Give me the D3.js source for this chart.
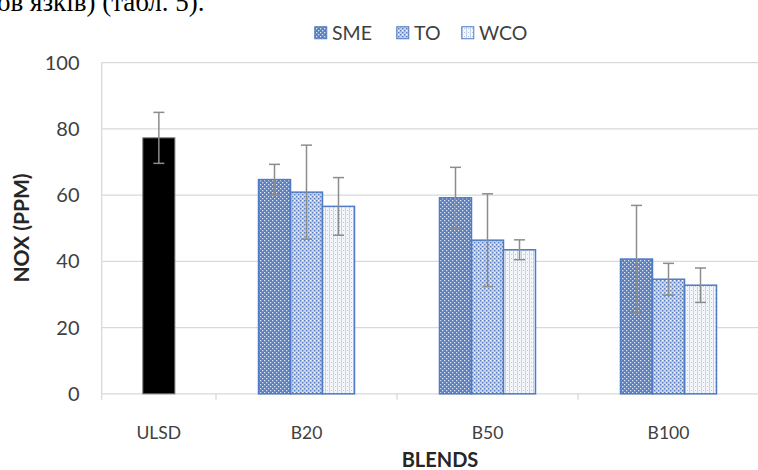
<!DOCTYPE html>
<html>
<head>
<meta charset="utf-8">
<script src="https://cdn.jsdelivr.net/npm/d3@7"></script>
<style>
  html, body { margin: 0; padding: 0; background: #fff; }
  svg { display: block; }
</style>
</head>
<body>
<script>
// NOx emissions by fuel blend, with error bars
const blends = ["B20", "B50", "B100"];
const seriesNames = ["SME", "TO", "WCO"];
const baseFuel = "ULSD";
const baseValue = 77.3;
const baseError = 7.7;
const smeValues = [64.7, 59.2, 40.7];
const smeErrors = [4.6, 9.2, 16.2];
const toValues = [60.9, 46.4, 34.6];
const toErrors = [14.2, 14.0, 4.8];
const wcoValues = [56.6, 43.5, 32.8];
const wcoErrors = [8.7, 3.0, 5.2];
const yTicks = [0, 20, 40, 60, 80, 100];

const W = 758, H = 470;
const plotLeft = 101.7, plotRight = 759, plotTop = 62.7, plotBottom = 393.8;
const baseRight = 216;
const barW = 32;
const font = "Lato, 'Open Sans', sans-serif";

const svg = d3.select("body").append("svg").attr("width", W).attr("height", H);
const defs = svg.append("defs");

// Fill patterns for the three biodiesel series
const pSME = defs.append("pattern").attr("id", "pat-sme").attr("patternUnits", "userSpaceOnUse")
  .attr("width", 4).attr("height", 4);
pSME.append("rect").attr("width", 4).attr("height", 4).attr("fill", "#5a7fc0");
pSME.append("rect").attr("x", 0).attr("y", 0).attr("width", 1.3).attr("height", 1.3).attr("fill", "#dfe7f4");
pSME.append("rect").attr("x", 2).attr("y", 2).attr("width", 1.3).attr("height", 1.3).attr("fill", "#dfe7f4");

const pTO = defs.append("pattern").attr("id", "pat-to").attr("patternUnits", "userSpaceOnUse")
  .attr("width", 4).attr("height", 4);
pTO.append("rect").attr("width", 4).attr("height", 4).attr("fill", "#c3d1ea");
pTO.append("rect").attr("x", 0).attr("y", 0).attr("width", 1.4).attr("height", 1.4).attr("fill", "#5a7fc0");
pTO.append("rect").attr("x", 2).attr("y", 2).attr("width", 1.4).attr("height", 1.4).attr("fill", "#5a7fc0");
pTO.append("rect").attr("x", 2).attr("y", 0).attr("width", 1).attr("height", 1).attr("fill", "#ffffff");

const pWCO = defs.append("pattern").attr("id", "pat-wco").attr("patternUnits", "userSpaceOnUse")
  .attr("width", 4).attr("height", 4);
pWCO.append("rect").attr("width", 4).attr("height", 4).attr("fill", "#f3f6fb");
pWCO.append("rect").attr("x", 1).attr("y", 0).attr("width", 1).attr("height", 4).attr("fill", "#c4d3ec");
pWCO.append("rect").attr("x", 3).attr("y", 2).attr("width", 1).attr("height", 1).attr("fill", "#b3c5e6");

const fills = { SME: "url(#pat-sme)", TO: "url(#pat-to)", WCO: "url(#pat-wco)" };
const barStroke = "#4f7bc4";

// Scales
const y = d3.scaleLinear().domain([0, 100]).range([plotBottom, plotTop]);
const xBase = d3.scaleBand().domain([baseFuel]).range([plotLeft, baseRight]);
const xBlend = d3.scaleBand().domain(blends).range([baseRight, plotRight]);
const bw = xBlend.bandwidth();
const xSeries = d3.scaleBand().domain(seriesNames)
  .range([bw / 2 - 1.5 * barW, bw / 2 + 1.5 * barW]);

// Running text of the page above the figure
svg.append("text").attr("x", -3).attr("y", 11)
  .attr("font-family", "'Liberation Serif', 'DejaVu Serif', serif")
  .attr("font-size", 27).attr("fill", "#000")
  .text("ов язків) (табл. 5).");

// Gridlines
svg.append("g").selectAll("line").data(yTicks.filter(d => d > 0)).join("line")
  .attr("x1", plotLeft).attr("x2", plotRight)
  .attr("y1", d => y(d)).attr("y2", d => y(d))
  .attr("stroke", "#d9d9d9").attr("stroke-width", 1.3);

// Value axis line
svg.append("line").attr("x1", plotLeft).attr("x2", plotLeft)
  .attr("y1", plotTop).attr("y2", plotBottom + 6)
  .attr("stroke", "#d9d9d9").attr("stroke-width", 1.3);

// Category axis line and tick marks at category boundaries
svg.append("line").attr("x1", plotLeft).attr("x2", plotRight)
  .attr("y1", plotBottom).attr("y2", plotBottom)
  .attr("stroke", "#d9d9d9").attr("stroke-width", 1.3);
const boundaries = [xBase.range()[1]].concat(blends.slice(1).map(b => xBlend(b)));
svg.append("g").selectAll("line").data(boundaries).join("line")
  .attr("x1", d => d).attr("x2", d => d)
  .attr("y1", plotBottom).attr("y2", plotBottom + 6)
  .attr("stroke", "#d9d9d9").attr("stroke-width", 1.3);

// Y tick labels
svg.append("g").selectAll("text").data(yTicks).join("text")
  .attr("x", 79.5).attr("y", d => y(d)).attr("dy", "0.35em")
  .attr("text-anchor", "end")
  .attr("font-family", font).attr("font-size", 20)
  .attr("fill", "#404040")
  .text(d => d);

// Category labels
const catLabels = [{ name: baseFuel, x: xBase(baseFuel) + xBase.bandwidth() / 2 }]
  .concat(blends.map(b => ({ name: b, x: xBlend(b) + bw / 2 })));
svg.append("g").selectAll("text").data(catLabels).join("text")
  .attr("x", d => d.x).attr("y", 439)
  .attr("text-anchor", "middle")
  .attr("font-family", font).attr("font-size", 17.5)
  .attr("fill", "#404040")
  .text(d => d.name);

// Axis titles
svg.append("text").attr("x", 440).attr("y", 467)
  .attr("text-anchor", "middle")
  .attr("font-family", font).attr("font-size", 20)
  .attr("font-weight", "bold").attr("fill", "#262626")
  .text("BLENDS");
svg.append("text")
  .attr("transform", "translate(29,228) rotate(-90)")
  .attr("text-anchor", "middle")
  .attr("font-family", font).attr("font-size", 21)
  .attr("font-weight", "bold").attr("fill", "#262626")
  .text("NOX (PPM)");

// Baseline fuel bar
const baseX = xBase(baseFuel) + xBase.bandwidth() / 2;
svg.append("rect")
  .attr("x", baseX - barW / 2).attr("width", barW)
  .attr("y", y(baseValue)).attr("height", y(0) - y(baseValue))
  .attr("fill", "#000").attr("stroke", "#6f6f6f").attr("stroke-width", 1);

// Blend bars
const blendData = [];
const valuesBySeries = { SME: smeValues, TO: toValues, WCO: wcoValues };
const errorsBySeries = { SME: smeErrors, TO: toErrors, WCO: wcoErrors };
blends.forEach((b, i) => {
  seriesNames.forEach(s => {
    blendData.push({ blend: b, series: s, value: valuesBySeries[s][i], err: errorsBySeries[s][i] });
  });
});

svg.append("g").selectAll("rect").data(blendData).join("rect")
  .attr("x", d => xBlend(d.blend) + xSeries(d.series))
  .attr("width", xSeries.bandwidth())
  .attr("y", d => y(d.value))
  .attr("height", d => y(0) - y(d.value))
  .attr("fill", d => fills[d.series])
  .attr("stroke", barStroke).attr("stroke-width", 1.5);

// Error bars
const errData = [{ x: baseX, value: baseValue, err: baseError }]
  .concat(blendData.map(d => ({
    x: xBlend(d.blend) + xSeries(d.series) + xSeries.bandwidth() / 2,
    value: d.value, err: d.err
  })));
const eg = svg.append("g").attr("stroke", "#8c8c8c").attr("stroke-width", 1.5);
eg.selectAll(".stem").data(errData).join("line").attr("class", "stem")
  .attr("x1", d => d.x).attr("x2", d => d.x)
  .attr("y1", d => y(d.value + d.err)).attr("y2", d => y(d.value - d.err));
eg.selectAll(".capTop").data(errData).join("line").attr("class", "capTop")
  .attr("x1", d => d.x - 5.5).attr("x2", d => d.x + 5.5)
  .attr("y1", d => y(d.value + d.err)).attr("y2", d => y(d.value + d.err));
eg.selectAll(".capBot").data(errData).join("line").attr("class", "capBot")
  .attr("x1", d => d.x - 5.5).attr("x2", d => d.x + 5.5)
  .attr("y1", d => y(d.value - d.err)).attr("y2", d => y(d.value - d.err));

// Legend
const legendX = [314, 396, 461];
const lg = svg.append("g").selectAll("g").data(seriesNames).join("g")
  .attr("transform", (d, i) => `translate(${legendX[i]},26)`);
lg.append("rect").attr("x", 0.75).attr("y", 0.75).attr("width", 12).attr("height", 12)
  .attr("fill", d => fills[d]).attr("stroke", barStroke).attr("stroke-width", 1);
lg.append("text").attr("x", 18).attr("y", 7).attr("dy", "0.35em")
  .attr("font-family", font).attr("font-size", 19.5)
  .attr("fill", "#404040")
  .text(d => d);
</script>
</body>
</html>
